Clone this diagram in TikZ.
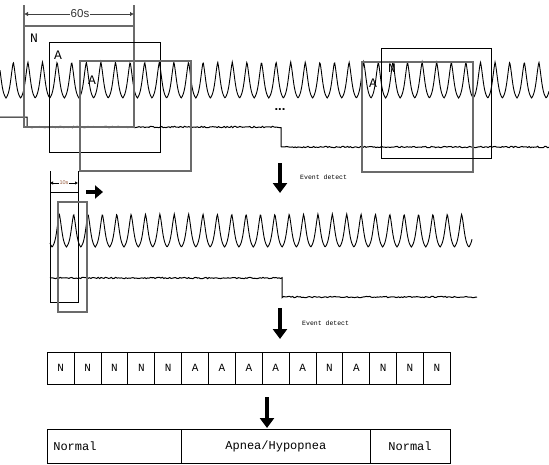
\documentclass[tikz,border=0pt]{standalone}
\usepackage{fontspec}
\setmainfont{Liberation Serif}
\newfontfamily\monof{Liberation Mono}
\newfontfamily\sansf{Liberation Sans}
\usetikzlibrary{arrows.meta}
\begin{document}
\begin{tikzpicture}[x=1pt,y=-1pt,
  declare function={wv(\u)=0.6*asin(cos(\u+30*sin(\u)))/90+0.4*cos(\u+30*sin(\u));},
  wave/.style={line width=0.9pt, black},
  sig/.style={line width=1pt, black},
  gbox/.style={draw=black!58, line width=1.2pt},
  bbox/.style={draw=black, line width=1pt},
  lab/.style={font=\monof\fontsize{13}{13}\selectfont, inner sep=0pt},
  bigarrow/.style={line width=4pt, -{Triangle[width=14pt,length=10pt]}},
  cell/.style={draw, line width=0.9pt, minimum width=26.87pt, minimum height=32pt, inner sep=0pt, font=\monof\fontsize{11}{11}\selectfont},
  seg/.style={draw, line width=0.9pt, minimum height=34pt, inner ysep=0pt, inner xsep=6pt, font=\monof\fontsize{12}{12}\selectfont},
  evt/.style={font=\monof\fontsize{6.5}{6.5}\selectfont, anchor=west, inner sep=0pt},
  dimline/.style={line width=0.9pt, black!75, {Latex[length=4pt,width=4.5pt]}-{Latex[length=4pt,width=4.5pt]}},
]
\useasboundingbox (0,0) rectangle (549,464);
\pgfmathsetseed{7}

% ---------- top section ----------
\draw[wave] plot[domain=0:549,samples=1100] (\x,{80-18*wv(24.658*(\x-13.3))});
\draw[sig] (0,117) -- (27,117) -- (27,127)
  -- plot[domain=27:281,samples=180] (\x,{127+0.7*rand})
  -- (281,147)
  -- plot[domain=281:549,samples=190] (\x,{147+0.7*rand});
\node[font=\sansf\bfseries\fontsize{13}{13}\selectfont, anchor=base, inner sep=0pt] (dots) at (280,110) {...};

% windows
\draw[gbox] (24,26) rectangle (134,127);
\draw[bbox] (49,42) rectangle (160,152);
\draw[gbox] (80,61) rectangle (191,171);
\draw[gbox] (362,62) rectangle (473,172);
\draw[bbox] (381,48) rectangle (491,158);
\node[lab] (lN1) at (34,38) {N};
\node[lab] (lA1) at (58,55) {A};
\node[lab] (lA2) at (92,80) {A};
\node[lab] (lA3) at (373,83) {A};
\node[lab] (lN2) at (392,68) {N};

% 60s dimension
\draw[black!58, line width=1.2pt] (24,5) -- (24,26) (134,5) -- (134,26);
\coordinate (d60a) at (24,14);
\coordinate (d60b) at (134,14);
\draw[dimline] (d60a) -- (d60b);
\node[fill=white, inner sep=1pt, text=black!80, font=\sansf\fontsize{11.5}{11.5}\selectfont] (t60) at (80,14) {60s};

% arrow 1
\coordinate (a1s) at (280,163);
\coordinate (a1e) at (280,193);
\draw[bigarrow] (a1s) -- (a1e);
\node[evt] (ev1) at (300,177) {Event detect};

% ---------- middle section ----------
\draw[wave] plot[domain=50:472,samples=850] (\x,{230.5-16.5*wv(25.052*(\x-59.3))});
\draw[sig] plot[domain=50:282,samples=160] (\x,{278+0.7*rand})
  -- (282,297)
  -- plot[domain=282:477,samples=130] (\x,{297+0.7*rand});

\draw[bbox] (50,192) rectangle (78,302);
\draw[gbox] (58,202) rectangle (87,312);
\draw[black, line width=1pt] (50,171) -- (50,192) (78,171) -- (78,192);
\coordinate (d10a) at (50,183);
\coordinate (d10b) at (78,183);
\draw[line width=0.7pt, {Latex[length=3pt,width=3.5pt]}-{Latex[length=3pt,width=3.5pt]}] (d10a) -- (d10b);
\node[fill=white, inner sep=0.5pt, text={rgb,255:red,150;green,90;blue,60}, font=\sansf\fontsize{5.5}{5.5}\selectfont] (t10) at (64,183) {10s};

\coordinate (ras) at (86,192);
\coordinate (rae) at (103,192);
\draw[line width=4pt, -{Triangle[width=13pt,length=8pt]}] (ras) -- (rae);

% arrow 2
\coordinate (a2s) at (280,308);
\coordinate (a2e) at (280,339);
\draw[bigarrow] (a2s) -- (a2e);
\node[evt] (ev2) at (302,323) {Event detect};

% ---------- bottom section ----------
\foreach \lbl [count=\i] in {N,N,N,N,N,A,A,A,A,A,N,A,N,N,N}{
  \node[cell] (c\i) at ({47.3+26.87*(\i-0.5)},368) {\lbl};
}

\coordinate (a3s) at (267,397);
\coordinate (a3e) at (267,428);
\draw[bigarrow] (a3s) -- (a3e);

\node[seg, minimum width=134.4pt, text width=122.4pt, align=left] (s1) at (114.5,446) {Normal};
\node[seg, minimum width=188.3pt] (s2) at (275.85,446) {Apnea/Hypopnea};
\node[seg, minimum width=80pt] (s3) at (410,446) {Normal};
\end{tikzpicture}
\end{document}
